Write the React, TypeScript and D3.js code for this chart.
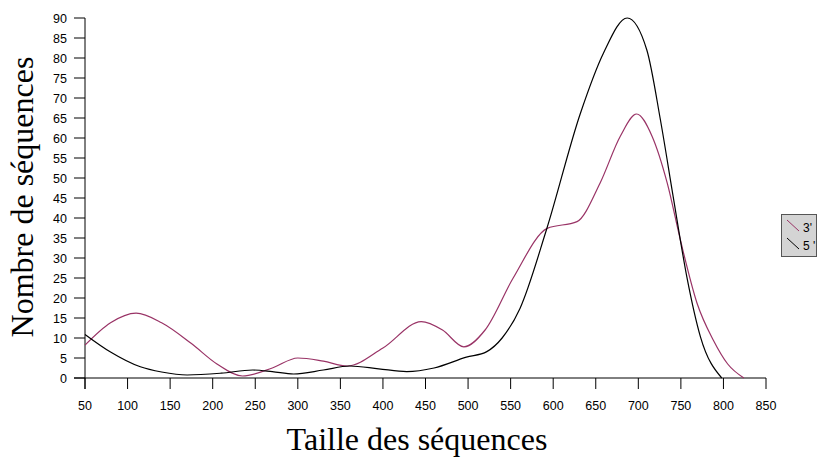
import React from "react";
import * as d3 from "d3";

const xTicks = [50, 100, 150, 200, 250, 300, 350, 400, 450, 500, 550, 600, 650, 700, 750, 800, 850];
const yTicks = [0, 5, 10, 15, 20, 25, 30, 35, 40, 45, 50, 55, 60, 65, 70, 75, 80, 85, 90];

const seriesNames = ["3'", "5 '"];
const seriesColors = ["#993366", "#000000"];

const x3 = [50, 80, 110, 140, 175, 205, 235, 270, 300, 330, 358, 400, 445, 470, 495, 520, 553, 593, 628, 655, 679, 698, 716, 734, 750, 769, 788, 805, 824];
const y3 = [8.2, 13.8, 16.2, 13.8, 8.6, 3.5, 0.5, 2.5, 5, 4.2, 3, 7.5, 14.1, 12, 7.8, 12, 25, 37.4, 39.1, 48.7, 60.5, 66, 60.5, 48.7, 34, 18.7, 9.5, 3.5, 0];

const x5 = [50, 80, 115, 140, 170, 210, 247, 270, 295, 330, 361, 395, 428, 460, 498, 522, 540, 561, 592, 632, 659, 687, 710, 726, 741, 757, 773, 798];
const y5 = [10.9, 6.5, 2.8, 1.5, 0.75, 1.2, 2, 1.6, 1, 2, 3, 2.3, 1.6, 2.5, 5.2, 6.6, 10, 17.4, 37, 66.2, 81.2, 90, 82, 64.5, 45.3, 25.3, 10.3, 0];

export default function App() {
  const W = 819, H = 457;
  const x = d3.scaleLinear().domain([50, 850]).range([85, 766]);
  const y = d3.scaleLinear().domain([0, 90]).range([378, 18]);
  const line = d3
    .line<[number, number]>()
    .x((d) => x(d[0]))
    .y((d) => y(Math.max(0, d[1])))
    .curve(d3.curveMonotoneX);
  const s3 = x3.map((v, i) => [v, y3[i]] as [number, number]);
  const s5 = x5.map((v, i) => [v, y5[i]] as [number, number]);
  const sans = "'Liberation Sans', Arial, sans-serif";
  const serif = "'Liberation Serif', 'Times New Roman', serif";
  return (
    <svg width={W} height={H} style={{ position: "absolute", left: 0, top: 0, background: "#fff" }}>
      {/* axes */}
      <line x1={x(50)} x2={x(50)} y1={y(90)} y2={389} stroke="#000" strokeWidth={1} />
      <line x1={74} x2={x(850)} y1={y(0)} y2={y(0)} stroke="#000" strokeWidth={1} />
      {yTicks.map((t) => (
        <g key={"y" + t}>
          <line x1={74} x2={x(50)} y1={y(t)} y2={y(t)} stroke="#000" />
          <text x={67} y={y(t) + 4.5} textAnchor="end" fontFamily={sans} fontSize={12.5}>{t}</text>
        </g>
      ))}
      {xTicks.map((t) => (
        <g key={"x" + t}>
          <line x1={x(t)} x2={x(t)} y1={y(0)} y2={389} stroke="#000" />
          <text x={x(t)} y={410} textAnchor="middle" fontFamily={sans} fontSize={12.5}>{t}</text>
        </g>
      ))}
      {/* series */}
      <path d={line(s3) || ""} fill="none" stroke={seriesColors[0]} strokeWidth={1.2} />
      <path d={line(s5) || ""} fill="none" stroke={seriesColors[1]} strokeWidth={1.2} />
      {/* titles */}
      <text x={417} y={450} textAnchor="middle" fontFamily={serif} fontSize={32}>Taille des séquences</text>
      <text transform="translate(33,197) rotate(-90)" textAnchor="middle" fontFamily={serif} fontSize={32}>Nombre de séquences</text>
      {/* legend */}
      <rect x={781.5} y={214.5} width={35} height={42} fill="#d4d4d4" stroke="#555" strokeWidth={1} />
      {seriesNames.map((n, i) => (
        <g key={n}>
          <line x1={787} y1={220 + i * 18} x2={799} y2={231 + i * 18} stroke={seriesColors[i]} strokeWidth={1} />
          <text x={803} y={232 + i * 18} fontFamily={sans} fontSize={12}>{n}</text>
        </g>
      ))}
    </svg>
  );
}
